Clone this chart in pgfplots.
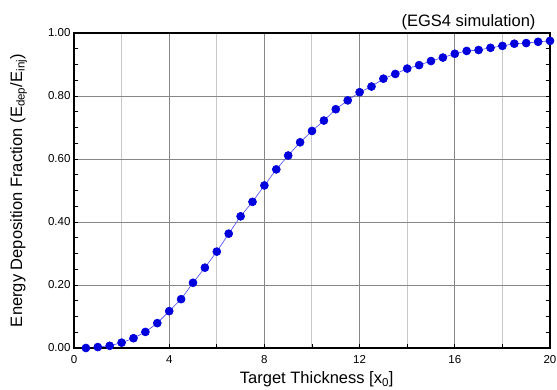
\documentclass[border=0pt]{standalone}
\usepackage{pgfplots}
\pgfplotsset{compat=1.18}
\usepackage{fontspec}
\setmainfont{Liberation Sans}
\definecolor{ptblue}{RGB}{0,0,220}
\definecolor{lnblue}{RGB}{70,70,240}
\definecolor{gmaj}{RGB}{135,135,135}
\definecolor{gmin}{RGB}{200,200,200}
\begin{document}
\begin{tikzpicture}
\begin{axis}[
  scale only axis,
  width=476pt, height=315pt,
  xmin=0, xmax=20, ymin=0, ymax=1,
  xtick={0,4,8,12,16,20},
  minor xtick={2,6,10,14,18},
  ytick={0,0.2,0.4,0.6,0.8,1.0},
  minor ytick={0.05,0.1,0.15,0.25,0.3,0.35,0.45,0.5,0.55,0.65,0.7,0.75,0.85,0.9,0.95},
  xmajorgrids=true, xminorgrids=true, ymajorgrids=true, yminorgrids=false,
  major grid style={gmaj, line width=0.8pt},
  minor x grid style={gmin, line width=1pt},
  tick align=inside,
  xtick pos=bottom, ytick pos=both,
  major tick length=4pt, minor tick length=4pt,
  tick style={black, line width=0.7pt},
  axis line style={black, line width=1.1pt},
  /pgf/number format/assume math mode=true,
  yticklabel style={/pgf/number format/fixed, /pgf/number format/fixed zerofill, /pgf/number format/precision=2, font=\fontsize{11.5}{13}\selectfont},
  xticklabel style={font=\fontsize{11.5}{13}\selectfont, anchor=base, yshift=-16pt},
  xlabel={Target Thickness [x\textsubscript{0}]},
  ylabel={Energy Deposition Fraction (E\textsubscript{dep}/E\textsubscript{inj})},
  label style={font=\fontsize{16.5}{18}\selectfont},
  xlabel style={at={(axis description cs:0.51,-0.114)}, anchor=base},
  ylabel style={at={(axis description cs:-0.109,0.5)}, anchor=base, rotate=0},
  clip=false,
]
\addplot[color=lnblue, line width=0.6pt, mark=*, mark size=4pt, mark options={draw=ptblue, fill=ptblue}] coordinates {
(0.5,0.000) (1.0,0.003) (1.5,0.007) (2.0,0.017) (2.5,0.031) (3.0,0.051)
(3.5,0.079) (4.0,0.117) (4.5,0.155) (5.0,0.207) (5.5,0.255) (6.0,0.306)
(6.5,0.363) (7.0,0.418) (7.5,0.464) (8.0,0.516) (8.5,0.567) (9.0,0.611)
(9.5,0.653) (10.0,0.689) (10.5,0.722) (11.0,0.758) (11.5,0.786) (12.0,0.812)
(12.5,0.830) (13.0,0.855) (13.5,0.870) (14.0,0.887) (14.5,0.898) (15.0,0.911)
(15.5,0.922) (16.0,0.934) (16.5,0.943) (17.0,0.946) (17.5,0.953) (18.0,0.959)
(18.5,0.966) (19.0,0.968) (19.5,0.972) (20.0,0.975)
};
\draw[black, line width=2.4pt] (rel axis cs:0,1) -- (rel axis cs:1,1);
\draw[black, line width=2.4pt] (rel axis cs:0,0) -- (rel axis cs:1,0);
\node[anchor=base east, font=\fontsize{16.5}{18}\selectfont] at ([xshift=-11pt,yshift=6pt]rel axis cs:1,1) {(EGS4 simulation)};
\end{axis}
\pgfresetboundingbox
\path[use as bounding box] ([xshift=-74pt,yshift=-42pt]current axis.south west) rectangle ([xshift=7pt,yshift=33pt]current axis.north east);
\end{tikzpicture}
\end{document}
